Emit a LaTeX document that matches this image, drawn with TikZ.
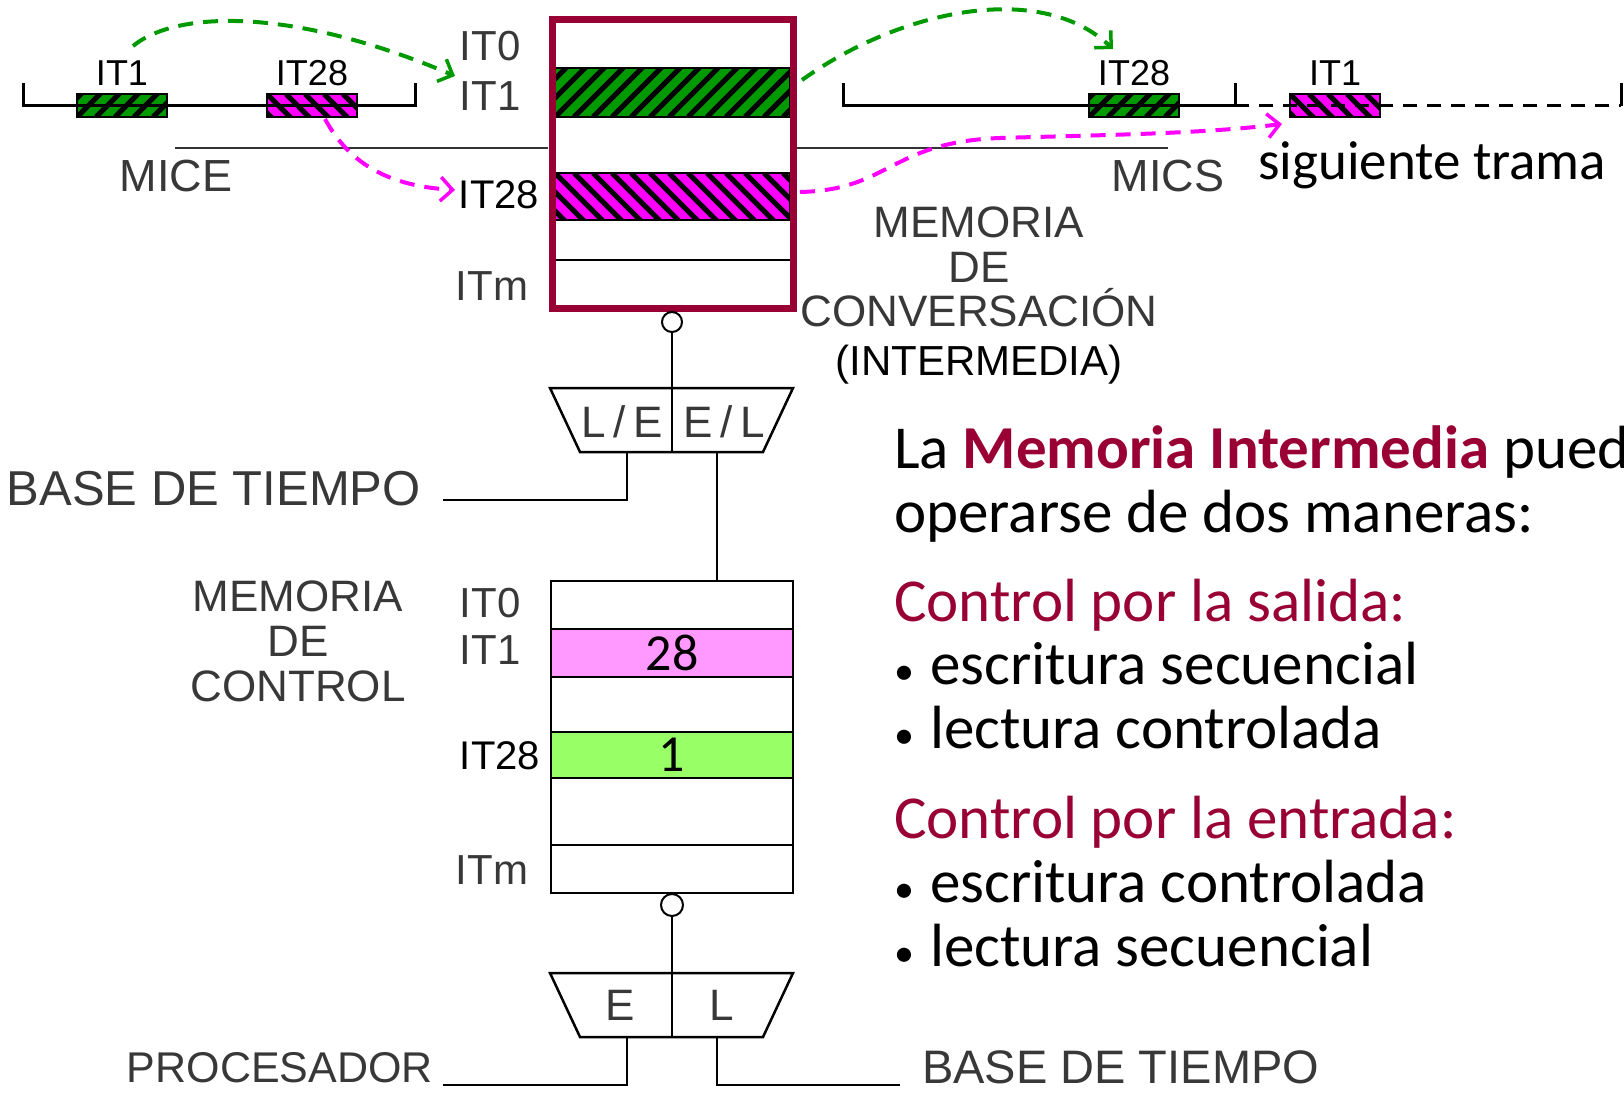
\documentclass[tikz,border=0pt]{standalone}
\usepackage{fontspec}
\setmainfont{Liberation Sans}
\newfontfamily\cadfont{Liberation Sans}
\newfontfamily\cadwide{Liberation Sans}[LetterSpace=18]
\newfontfamily\handfont{Carlito}
\usetikzlibrary{arrows.meta,positioning}

\definecolor{vino}{HTML}{990033}
\definecolor{verde}{HTML}{009900}
\definecolor{fucsia}{HTML}{FF00FF}
\definecolor{rosa}{HTML}{FF99FF}
\definecolor{verdeclaro}{HTML}{99FF66}

\newcommand{\punto}{{\fontsize{40}{40}\selectfont•}\hspace{16pt}}

\tikzset{
  cad/.style={font=\cadfont\fontsize{42}{45}\selectfont, text=black!78, inner sep=0pt},
  lbl/.style={font=\fontsize{36}{36}\selectfont, inner sep=0pt},
  hand/.style={font=\handfont\fontsize{61}{64}\selectfont, inner sep=0pt, anchor=base west},
  wire/.style={line width=2.5pt},
  hatchR/.style={path picture={\foreach \k in {-4,...,16}
      \draw[line width=5pt] ([xshift=\k*19pt]path picture bounding box.south west) -- ++(70pt,70pt);}},
  hatchL/.style={path picture={\foreach \k in {-4,...,16}
      \draw[line width=5pt] ([xshift=\k*19pt]path picture bounding box.north west) -- ++(70pt,-70pt);}},
  slot/.style={draw, line width=2pt, minimum width=90pt, minimum height=23pt, inner sep=0pt},
  band/.style={draw, line width=2.5pt, minimum width=235pt, inner sep=0pt},
  jump/.style={line width=4pt, dash pattern=on 15pt off 10pt,
    -{Straight Barb[length=12pt,width=24pt,line width=3.5pt]}},
  port/.style={circle, draw, line width=2pt, fill=white, minimum size=20pt, inner sep=0pt}
}

\begin{document}
\begin{tikzpicture}[x=1pt, y=-1pt]
  \useasboundingbox (0,0) rectangle (1624,1094);
  \fill[white] (0,0) rectangle (1624,1094);

  % Frame MICE
  \node[slot, fill=verde, hatchR] (fIT1) at (122,105.5) {};
  \node[slot, fill=fucsia, hatchL] (fIT28) at (312,105.5) {};
  \draw[line width=3pt] (23,83) -- (23,106) -- (415,106) -- (415,83);
  \node[lbl, above=7pt of fIT1] (fIT1l) {IT1};
  \node[lbl, above=7pt of fIT28] (fIT28l) {IT28};

  % Frame MICS and next frame
  \node[slot, fill=verde, hatchR] (sIT28) at (1134,105.5) {};
  \node[slot, fill=fucsia, hatchL] (sIT1) at (1335,105.5) {};
  \draw[line width=3pt] (843,83) -- (843,106) -- (1235,106) -- (1235,83);
  \draw[line width=3pt, dash pattern=on 14pt off 10pt] (1235,106) -- (1621,106);
  \draw[line width=3pt] (1621,106) -- (1621,83);
  \node[lbl, above=7pt of sIT28] (sIT28l) {IT28};
  \node[lbl, above=7pt of sIT1] (sIT1l) {IT1};
  \node[font=\handfont\fontsize{55}{55}\selectfont, anchor=base west, inner sep=0pt] (sig) at (1258,179) {siguiente trama};

  % Conversation memory
  \draw[line width=2pt, black!80] (175,148) -- (548,148);
  \draw[line width=2pt, black!80] (797,148) -- (1168,148);
  \node[band, fill=verde, hatchR, minimum height=49pt] (cgreen) at (672.5,92.5) {};
  \node[band, fill=fucsia, hatchL, minimum height=47pt] (cmag) at (672.5,196.5) {};
  \draw[wire] (555,260) -- (790,260);
  \node[draw=vino, line width=7pt, minimum width=241pt, minimum height=288pt, inner sep=0pt] (conv) at (672.5,164) {};
  \node[cad] (cIT0) at (490,46) {IT0};
  \node[cad] (cIT1) at (490,96) {IT1};
  \node[lbl, font=\fontsize{40}{40}\selectfont] (cIT28) at (499,195) {IT28};
  \node[cad] (cITm) at (492,286) {ITm};
  \node[cad, font=\cadfont\fontsize{45}{45}\selectfont] (mice) at (176,176) {MICE};
  \node[cad, font=\cadfont\fontsize{45}{45}\selectfont] (mics) at (1168,176) {MICS};
  \node[cad, align=center, font=\cadfont\fontsize{44}{44.5}\selectfont] (convl) at (979,267) {MEMORIA\\DE\\CONVERSACIÓN};
  \node[lbl, font=\fontsize{42}{42}\selectfont] (interl) at (979,365) {(INTERMEDIA)};

  % Jumps between frames
  \draw[jump, verde] (133,46) .. controls (180,8) and (300,10) .. (455,76);
  \draw[jump, fucsia] (325,119) .. controls (350,165) and (390,186) .. (455,190);
  \draw[jump, verde] (802,80) .. controls (900,10) and (1040,-20) .. (1113,49);
  \draw[jump, fucsia] (800,192) .. controls (890,190) and (890,142) .. (1000,138)
    .. controls (1100,135) and (1200,134) .. (1282,124);

  % Read/write switch of conversation memory
  \node[port] (cport) at (672,322) {};
  \coordinate (rw1) at (672,388);
  \draw[wire] (550,388) -- (793,388) -- (763,452) -- (580,452) -- cycle;
  \draw[wire] (cport) -- (rw1) -- (672,452);
  \node[cad, font=\cadwide\fontsize{44}{44}\selectfont] (le) at (622,422) {L/E};
  \node[cad, font=\cadwide\fontsize{44}{44}\selectfont] (el) at (724,422) {E/L};
  \coordinate (rw1l) at (627,452);
  \coordinate (rw1r) at (717,452);
  \coordinate (bt1) at (443,500);
  \draw[wire] (rw1l) |- (bt1);
  \node[cad, font=\cadfont\fontsize{49}{49}\selectfont, anchor=east] (base1) at (421,489) {BASE DE TIEMPO};

  % Control memory
  \node[draw, line width=2.5pt, minimum width=242pt, minimum height=312pt, inner sep=0pt] (ctrl) at (672,737) {};
  \node[draw, line width=2.5pt, fill=rosa, minimum width=242pt, minimum height=48pt, inner sep=0pt,
    font=\handfont\fontsize{52}{52}\selectfont] (k28) at (672,653) {28};
  \node[draw, line width=2.5pt, fill=verdeclaro, minimum width=242pt, minimum height=46pt, inner sep=0pt,
    font=\handfont\fontsize{52}{52}\selectfont] (k1) at (672,755) {1};
  \draw[wire] (ctrl.west |- 0,845) -- (ctrl.east |- 0,845);
  \draw[wire] (rw1r) -- (rw1r |- ctrl.north);
  \node[cad] (kIT0) at (490,603) {IT0};
  \node[cad] (kIT1) at (490,650) {IT1};
  \node[lbl, font=\fontsize{40}{40}\selectfont] (kIT28) at (500,756) {IT28};
  \node[cad] (kITm) at (492,870) {ITm};
  \node[cad, align=center, font=\cadfont\fontsize{44}{45}\selectfont] (ctrll) at (298,641) {MEMORIA\\DE\\CONTROL};

  % Read/write switch of control memory
  \node[port, minimum size=22pt] (kport) at (672,905) {};
  \coordinate (rw2) at (672,973);
  \draw[wire] (550,973) -- (793,973) -- (763,1037) -- (580,1037) -- cycle;
  \draw[wire] (kport) -- (rw2) -- (672,1037);
  \node[cad, font=\cadfont\fontsize{44}{44}\selectfont] (ew) at (620,1005) {E};
  \node[cad, font=\cadfont\fontsize{44}{44}\selectfont] (lr) at (722,1005) {L};
  \coordinate (rw2l) at (627,1037);
  \coordinate (rw2r) at (717,1037);
  \coordinate (pr) at (443,1085);
  \coordinate (bt2) at (900,1085);
  \draw[wire] (rw2l) |- (pr);
  \draw[wire] (rw2r) |- (bt2);
  \node[cad, font=\cadfont\fontsize{43}{43}\selectfont, anchor=east] (proc) at (433,1068) {PROCESADOR};
  \node[cad, font=\cadfont\fontsize{47}{47}\selectfont, anchor=west] (base2) at (922,1067) {BASE DE TIEMPO};

  % Explanation
  \node[hand] (t1) at (894,468) {La \textcolor{vino}{\bfseries Memoria Intermedia} puede};
  \node[hand] (t2) at (894,532) {operarse de dos maneras:};
  \node[hand, text=vino] (t3) at (894,621) {Control por la salida:};
  \node[hand] (t4) at (894,684) {\punto escritura secuencial};
  \node[hand] (t5) at (894,748) {\punto lectura controlada};
  \node[hand, text=vino] (t6) at (894,838) {Control por la entrada:};
  \node[hand] (t7) at (894,902) {\punto escritura controlada};
  \node[hand] (t8) at (894,966) {\punto lectura secuencial};
\end{tikzpicture}
\end{document}
